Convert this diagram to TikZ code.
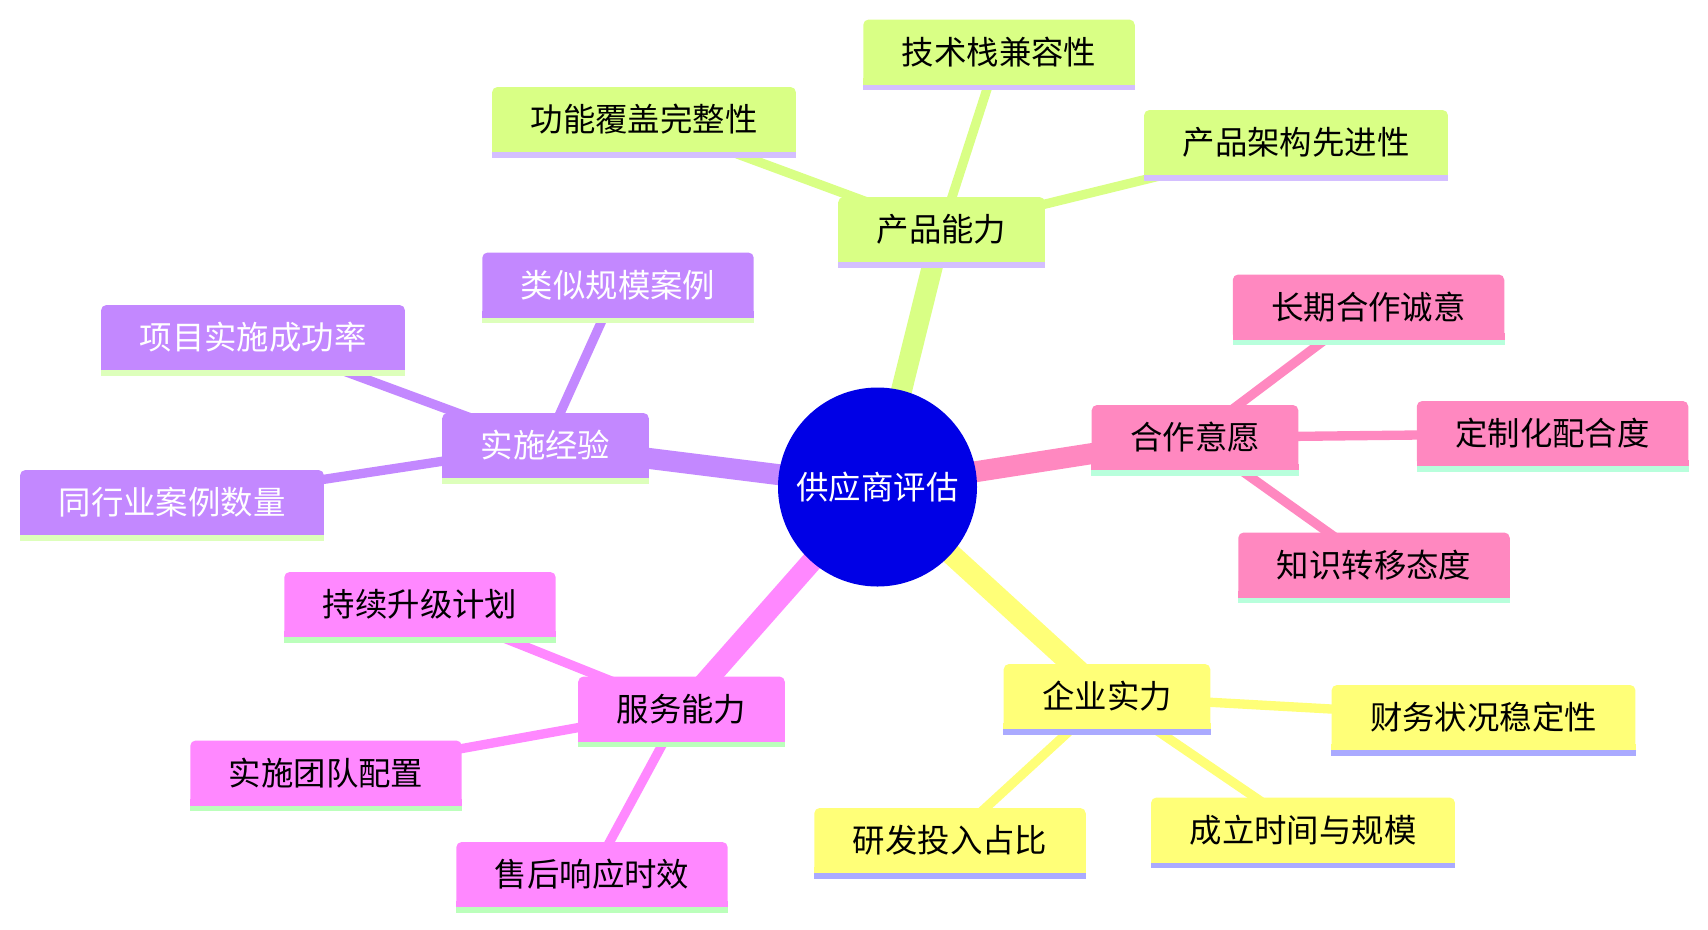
\documentclass[tikz,border=0pt]{standalone}
\usepackage{fontspec}
\newfontfamily\cjk{Noto Sans CJK SC}
\usetikzlibrary{backgrounds}
\definecolor{rootC}{HTML}{0000E6}
\definecolor{prodC}{HTML}{D9FF85}
\definecolor{prodB}{HTML}{D4BFFF}
\definecolor{coopC}{HTML}{FF88C0}
\definecolor{coopB}{HTML}{B8FFDC}
\definecolor{entC}{HTML}{FFFF78}
\definecolor{entB}{HTML}{AAAAFF}
\definecolor{servC}{HTML}{FF88FF}
\definecolor{servB}{HTML}{BBFFBB}
\definecolor{implC}{HTML}{C388FF}
\definecolor{implB}{HTML}{DDFFBB}
\tikzset{
  mmfont/.style={font=\cjk\fontsize{24.3}{29}\selectfont},
  box/.style={rectangle, rounded corners=4pt, minimum height=48.75pt, inner xsep=28.9pt, inner ysep=0pt, mmfont},
  rootnode/.style={circle, fill=rootC, minimum size=149.25pt, inner sep=0pt, text=white, mmfont},
  mainedge/.style={line width=15.75pt},
  subedge/.style={line width=7pt},
}
\newcommand{\mmbox}[7]{%
  \node[box, fill=#4, text=#6] (#1) at (#2,#3) {#7};
  \fill[#4] (#1.south west) rectangle ([yshift=5pt]#1.south east);
  \fill[#5] (#1.south west) rectangle ([yshift=-4.2pt]#1.south east);
}
\begin{document}
\begin{tikzpicture}[x=0.75pt, y=-0.75pt]
\useasboundingbox (0,0) rectangle (1708,929);
\node[rootnode] (root) at (877.5,487) {供应商评估};
% product
\mmbox{prod}{941.5}{229.5}{prodC}{prodB}{black}{产品能力}
\mmbox{p1}{644}{119.5}{prodC}{prodB}{black}{功能覆盖完整性}
\mmbox{p2}{999}{52}{prodC}{prodB}{black}{技术栈兼容性}
\mmbox{p3}{1296}{142.5}{prodC}{prodB}{black}{产品架构先进性}
% cooperation
\mmbox{coop}{1195}{437.5}{coopC}{coopB}{black}{合作意愿}
\mmbox{c1}{1368.5}{307}{coopC}{coopB}{black}{长期合作诚意}
\mmbox{c2}{1552.5}{433.5}{coopC}{coopB}{black}{定制化配合度}
\mmbox{c3}{1374}{565}{coopC}{coopB}{black}{知识转移态度}
% enterprise
\mmbox{ent}{1107}{696.5}{entC}{entB}{black}{企业实力}
\mmbox{e1}{1483.5}{717.5}{entC}{entB}{black}{财务状况稳定性}
\mmbox{e2}{1303}{830}{entC}{entB}{black}{成立时间与规模}
\mmbox{e3}{950}{840.5}{entC}{entB}{black}{研发投入占比}
% service
\mmbox{serv}{681.5}{709}{servC}{servB}{black}{服务能力}
\mmbox{s1}{420}{604.5}{servC}{servB}{black}{持续升级计划}
\mmbox{s2}{326}{773}{servC}{servB}{black}{实施团队配置}
\mmbox{s3}{592}{874.5}{servC}{servB}{black}{售后响应时效}
% implementation
\mmbox{impl}{545.5}{445.5}{implC}{implB}{white}{实施经验}
\mmbox{i1}{618}{285}{implC}{implB}{white}{类似规模案例}
\mmbox{i2}{253}{337.5}{implC}{implB}{white}{项目实施成功率}
\mmbox{i3}{172}{502.5}{implC}{implB}{white}{同行业案例数量}
\begin{scope}[on background layer]
  \draw[mainedge, prodC] (root.center) -- (prod.center);
  \draw[subedge, prodC] (prod.center) -- (p1.center);
  \draw[subedge, prodC] (prod.center) -- (p2.center);
  \draw[subedge, prodC] (prod.center) -- (p3.center);
  \draw[mainedge, coopC] (root.center) -- (coop.center);
  \draw[subedge, coopC] (coop.center) -- (c1.center);
  \draw[subedge, coopC] (coop.center) -- (c2.center);
  \draw[subedge, coopC] (coop.center) -- (c3.center);
  \draw[mainedge, entC] (root.center) -- (ent.center);
  \draw[subedge, entC] (ent.center) -- (e1.center);
  \draw[subedge, entC] (ent.center) -- (e2.center);
  \draw[subedge, entC] (ent.center) -- (e3.center);
  \draw[mainedge, servC] (root.center) -- (serv.center);
  \draw[subedge, servC] (serv.center) -- (s1.center);
  \draw[subedge, servC] (serv.center) -- (s2.center);
  \draw[subedge, servC] (serv.center) -- (s3.center);
  \draw[mainedge, implC] (root.center) -- (impl.center);
  \draw[subedge, implC] (impl.center) -- (i1.center);
  \draw[subedge, implC] (impl.center) -- (i2.center);
  \draw[subedge, implC] (impl.center) -- (i3.center);
\end{scope}
\end{tikzpicture}
\end{document}
